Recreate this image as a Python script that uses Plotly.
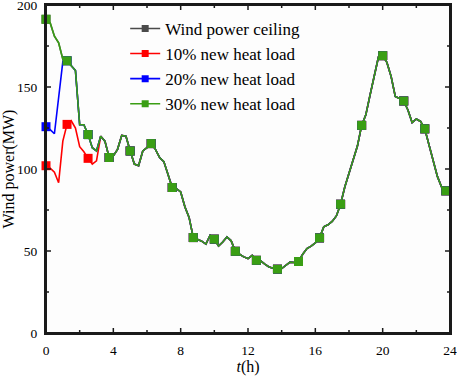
import plotly.graph_objects as go

# time axis: 15-minute steps over 24 h
hours = [i * 0.25 for i in range(96)]

# 30% new heat load (the wind power ceiling lies hidden underneath it)
green30 = [191.3, 189, 181, 177, 167, 166, 163, 160, 127, 127,
           121, 113, 111, 120, 117, 107, 108, 112, 120.5, 120,
           111, 103, 102, 111, 113, 115.5, 112, 107, 104.5, 96.5,
           88.7, 88, 86, 77, 70.5, 58.2, 57, 56, 54.2, 59.6,
           57.2, 53, 55.5, 58.6, 56.2, 49.8, 48, 46.4, 45.4, 47.4,
           44.3, 44, 42, 40.3, 39.5, 38.9, 39.3, 41, 43.2, 43,
           43.6, 48, 51.5, 53, 55, 58, 64.7, 66, 68, 71.4,
           78.5, 89, 97, 105, 114, 126.6, 133, 145, 157, 168.3,
           169.1, 165, 156.5, 144.3, 143, 141.5, 136, 128.3, 130.5, 129,
           124.5, 115, 105, 95.5, 89, 86.7]

# wind power ceiling coincides with the 30% curve
ceiling = list(green30)

# 10% new heat load: differs in the first hours, then coincides
red10_head = [102, 100.5, 98, 91.6, 117, 127.2, 129.4, 125, 113.6, 110.5,
              106.5, 103, 105]
red10 = red10_head + green30[len(red10_head):]

# 20% new heat load
blue20_head = [125.8, 124, 121.5, 142, 165.4]
blue20 = blue20_head + green30[len(blue20_head):]

names = ["Wind power ceiling", "10% new heat load",
         "20% new heat load", "30% new heat load"]
series = [ceiling, red10, blue20, green30]
colors = ["#4a4a4a", "#ff0000", "#0000ff", "#3a9e14"]
marker_every = 5

x_range = [0, 24]
y_range = [0, 200]
x_major = [0, 4, 8, 12, 16, 20, 24]
x_minor = [2, 6, 10, 14, 18, 22]
y_major = [0, 50, 100, 150, 200]
y_minor = [25, 75, 125, 175]

FONT = "Liberation Serif, Times New Roman, serif"
W, H = 457, 376
M = dict(l=46, r=7, t=5, b=43)
plot_w = W - M["l"] - M["r"]
plot_h = H - M["t"] - M["b"]
px_x = (x_range[1] - x_range[0]) / plot_w
px_y = (y_range[1] - y_range[0]) / plot_h
FRAME = "#1a1a1a"

fig = go.Figure()
for name, ys, col in zip(names, series, colors):
    fig.add_trace(go.Scatter(
        x=hours, y=ys, mode="lines", line=dict(color=col, width=1.6),
        showlegend=False))
    fig.add_trace(go.Scatter(
        x=hours[::marker_every], y=ys[::marker_every], mode="markers",
        marker=dict(symbol="square", size=9, color=col, line=dict(width=0)),
        showlegend=False, cliponaxis=False))

# frame around the plot area, from the axis ranges
x0, x1 = x_range
y0, y1 = y_range
fig.add_trace(go.Scatter(
    x=[x0, x1, x1, x0, x0], y=[y0, y0, y1, y1, y0], mode="lines",
    line=dict(color=FRAME, width=2), showlegend=False, cliponaxis=False))

# inside ticks on all four sides, from the tick value lists
tx, ty = [], []
for vals, ln in ((x_major, 5), (x_minor, 3)):
    for v in vals:
        tx += [v, v, None, v, v, None]
        ty += [y0, y0 + ln * px_y, None, y1, y1 - ln * px_y, None]
for vals, ln in ((y_major, 5), (y_minor, 3)):
    for v in vals:
        tx += [x0, x0 + ln * px_x, None, x1, x1 - ln * px_x, None]
        ty += [v, v, None, v, v, None]
fig.add_trace(go.Scatter(
    x=tx, y=ty, mode="lines", line=dict(color=FRAME, width=1.5),
    showlegend=False, cliponaxis=False))

# legend entries
for name, col in zip(names, colors):
    fig.add_trace(go.Scatter(
        x=[None], y=[None], mode="lines+markers", name=name,
        line=dict(color=col, width=1.6),
        marker=dict(symbol="square", size=7, color=col, line=dict(width=0))))

fig.update_xaxes(
    range=x_range, tick0=0, dtick=4,
    showline=True, linecolor=FRAME, linewidth=2, mirror=True,
    showgrid=False, zeroline=False, automargin=False,
    ticklabeloverflow="allow", ticklabelstandoff=4,
    tickfont=dict(family=FONT, size=13.5, color="black"),
    title=dict(text="<i>t</i>(h)", font=dict(family=FONT, size=16, color="black"),
               standoff=4))
fig.update_yaxes(
    range=y_range, tick0=0, dtick=50,
    showline=True, linecolor=FRAME, linewidth=2, mirror=True,
    showgrid=False, zeroline=False, automargin=False,
    ticklabeloverflow="allow", ticklabelstandoff=4,
    tickfont=dict(family=FONT, size=13.5, color="black"),
    title=dict(text="Wind power(MW)", font=dict(family=FONT, size=16, color="black"),
               standoff=4))

fig.update_layout(
    width=W, height=H, margin=M,
    plot_bgcolor="#fdfdfd", paper_bgcolor="white",
    font=dict(family=FONT, color="black"),
    shapes=[dict(type="rect", xref="x domain", yref="y domain",
                 x0=0, x1=1, y0=0, y1=1, line=dict(color=FRAME, width=2),
                 layer="above")],
    legend=dict(x=0.196, y=0.982, xanchor="left", yanchor="top",
                bgcolor="rgba(0,0,0,0)", font=dict(family=FONT, size=17, color="black"),
                tracegroupgap=0),
    showlegend=True,
)

fig.write_html("out.html", config={"displayModeBar": False},
               post_script="document.body.style.margin='0px';")
